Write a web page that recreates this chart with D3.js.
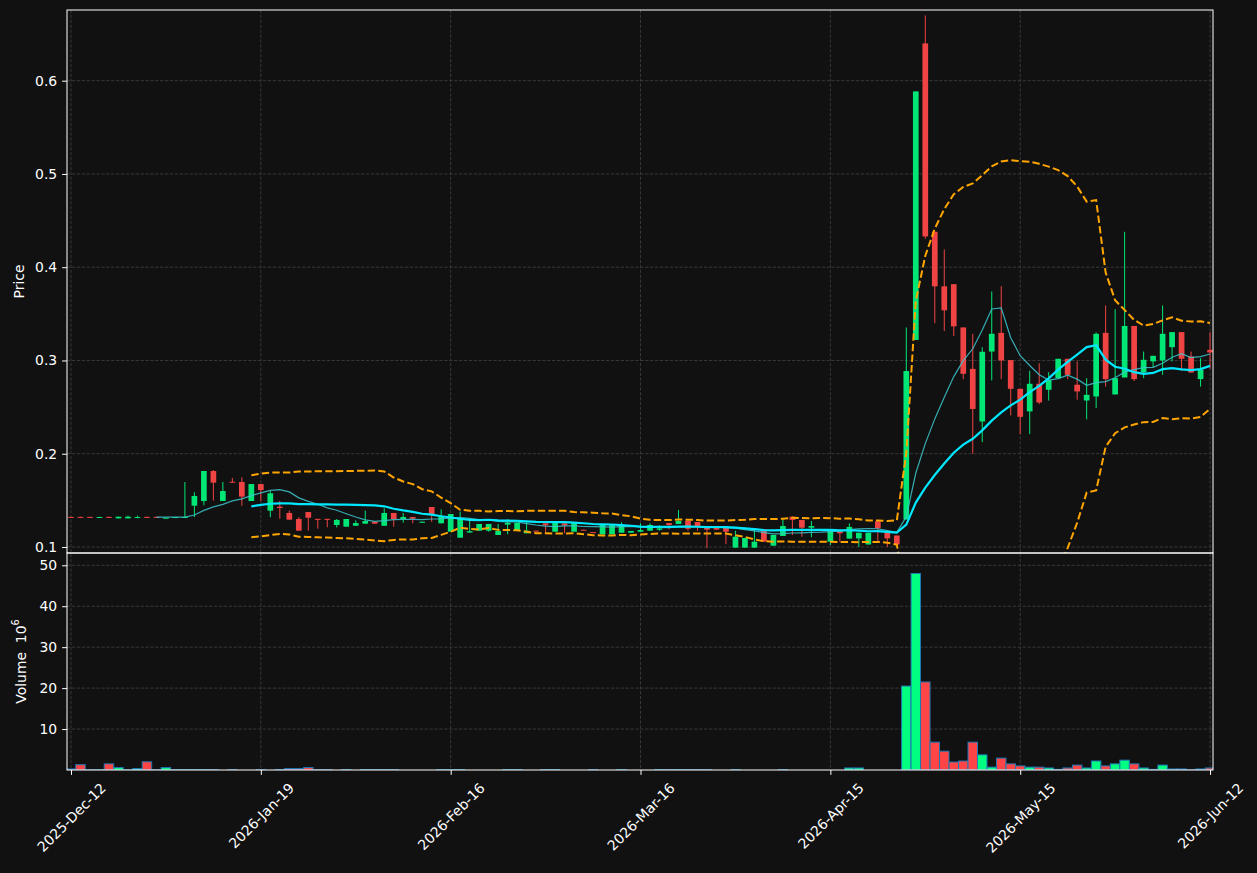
<!DOCTYPE html>
<html><head><meta charset="utf-8">
<script src="https://cdn.jsdelivr.net/npm/d3@7"></script>
<style>body{margin:0;background:#111111;} svg{display:block;font-family:"DejaVu Sans",sans-serif;}</style>
</head><body>
<svg id="c" width="1257" height="873"></svg>
<script>
// ---- data ----
const tickIndex  = [0, 20, 40, 60, 80, 100, 120];
const tickLabels = ["2025-Dec-12","2026-Jan-19","2026-Feb-16","2026-Mar-16","2026-Apr-15","2026-May-15","2026-Jun-12"];
const priceTicks  = [0.1, 0.2, 0.3, 0.4, 0.5, 0.6];
const volumeTicks = [10, 20, 30, 40, 50];

const opens = [
0.1323,0.1323,0.1323,0.1319,0.1323,0.1307,0.1307,0.1318,0.1323,0.1323,
0.1304,0.1320,0.1320,0.1443,0.1493,0.1815,0.1493,0.1700,0.1697,0.1493,
0.1675,0.1390,0.1432,0.1365,0.1300,0.1375,0.1302,0.1302,0.1236,0.1218,
0.1228,0.1250,0.1271,0.1228,0.1365,0.1300,0.1322,0.1260,0.1429,0.1254,
0.1164,0.1100,0.1155,0.1175,0.1175,0.1129,0.1240,0.1182,0.1147,0.1175,
0.1254,0.1164,0.1254,0.1164,0.1185,0.1160,0.1136,0.1136,0.1153,0.1153,
0.1164,0.1175,0.1185,0.1257,0.1247,0.1279,0.1268,0.1218,0.1218,0.1207,
0.0993,0.0993,0.0993,0.1190,0.1014,0.1118,0.1325,0.1290,0.1207,0.1175,
0.1057,0.1175,0.1090,0.1092,0.1027,0.1276,0.1161,0.1123,0.1295,0.3220,
0.6400,0.4380,0.3795,0.3818,0.3354,0.2910,0.2346,0.3096,0.3296,0.3004,
0.2696,0.2454,0.2750,0.2686,0.2810,0.3018,0.2740,0.2571,0.2614,0.3296,
0.2636,0.2818,0.3370,0.2871,0.2990,0.3000,0.3143,0.3304,0.3043,0.2800,
0.3114];
const highs = [
0.1325,0.1325,0.1324,0.1324,0.1325,0.1325,0.1336,0.1336,0.1326,0.1324,
0.1314,0.1321,0.1697,0.1587,0.1815,0.1826,0.1697,0.1740,0.1747,0.1675,
0.1675,0.1600,0.1493,0.1390,0.1320,0.1375,0.1302,0.1302,0.1300,0.1300,
0.1286,0.1390,0.1271,0.1415,0.1365,0.1365,0.1322,0.1271,0.1429,0.1404,
0.1354,0.1380,0.1290,0.1247,0.1247,0.1247,0.1297,0.1260,0.1270,0.1175,
0.1254,0.1260,0.1254,0.1260,0.1185,0.1160,0.1236,0.1236,0.1265,0.1172,
0.1254,0.1254,0.1233,0.1257,0.1397,0.1279,0.1268,0.1218,0.1218,0.1207,
0.1175,0.1097,0.1190,0.1190,0.1129,0.1297,0.1325,0.1290,0.1279,0.1190,
0.1175,0.1175,0.1253,0.1153,0.1153,0.1276,0.1161,0.1123,0.3354,0.5885,
0.6700,0.4380,0.4190,0.3818,0.3354,0.3286,0.3143,0.3740,0.3796,0.3004,
0.2696,0.2890,0.2970,0.2875,0.3018,0.3018,0.2990,0.2810,0.3300,0.3590,
0.3550,0.4380,0.3370,0.3096,0.3050,0.3590,0.3304,0.3304,0.3096,0.3025,
0.3304];
const lows = [
0.1318,0.1318,0.1319,0.1318,0.1318,0.1307,0.1307,0.1307,0.1316,0.1318,
0.1304,0.1319,0.1320,0.1320,0.1447,0.1497,0.1493,0.1690,0.1443,0.1493,
0.1493,0.1320,0.1303,0.1293,0.1175,0.1175,0.1196,0.1211,0.1210,0.1218,
0.1228,0.1250,0.1250,0.1228,0.1218,0.1261,0.1254,0.1260,0.1270,0.1254,
0.1164,0.1100,0.1155,0.1175,0.1164,0.1129,0.1136,0.1182,0.1147,0.1168,
0.1147,0.1164,0.1147,0.1164,0.1180,0.1152,0.1136,0.1136,0.1153,0.1153,
0.1164,0.1175,0.1175,0.1190,0.1247,0.1175,0.1175,0.0986,0.1186,0.1030,
0.0993,0.0993,0.0993,0.1057,0.1014,0.1118,0.1129,0.1110,0.1104,0.1175,
0.1021,0.1057,0.1090,0.1000,0.1027,0.1046,0.1000,0.1027,0.1295,0.3220,
0.4305,0.3400,0.3316,0.3262,0.2800,0.2000,0.2125,0.2786,0.2800,0.2410,
0.2210,0.2210,0.2532,0.2570,0.2810,0.2800,0.2579,0.2370,0.2490,0.2720,
0.2636,0.2818,0.2780,0.2810,0.2930,0.2846,0.2990,0.2890,0.2871,0.2720,
0.2910];
const closes = [
0.1320,0.1320,0.1320,0.1322,0.1320,0.1325,0.1325,0.1322,0.1319,0.1320,
0.1314,0.1321,0.1322,0.1547,0.1815,0.1690,0.1600,0.1690,0.1540,0.1675,
0.1610,0.1576,0.1418,0.1293,0.1175,0.1314,0.1295,0.1295,0.1290,0.1300,
0.1257,0.1279,0.1250,0.1365,0.1300,0.1322,0.1303,0.1271,0.1354,0.1322,
0.1354,0.1308,0.1170,0.1247,0.1247,0.1172,0.1260,0.1260,0.1175,0.1168,
0.1233,0.1260,0.1233,0.1260,0.1180,0.1152,0.1236,0.1236,0.1236,0.1172,
0.1182,0.1236,0.1200,0.1236,0.1279,0.1196,0.1218,0.1186,0.1186,0.1164,
0.1110,0.1097,0.1057,0.1057,0.1129,0.1225,0.1290,0.1207,0.1225,0.1190,
0.1175,0.1147,0.1215,0.1153,0.1153,0.1200,0.1092,0.1027,0.2887,0.5885,
0.4330,0.3795,0.3538,0.3366,0.2857,0.2480,0.3093,0.3286,0.3000,0.2696,
0.2396,0.2750,0.2550,0.2790,0.3018,0.2846,0.2668,0.2632,0.3286,0.2800,
0.2810,0.3370,0.2800,0.3007,0.3050,0.3286,0.3304,0.3018,0.2871,0.2900,
0.3086];
// volume in millions
const volumes = [
0.25,1.3,0.05,0.05,1.5,0.6,0.05,0.35,2.0,0.05,
0.6,0.08,0.08,0.08,0.08,0.08,0,0.08,0,0,
0.08,0,0.1,0.35,0.35,0.6,0.08,0.08,0,0.08,
0,0.08,0.08,0.08,0.08,0,0,0,0,0.08,
0.08,0.08,0,0,0,0,0.08,0.08,0,0,
0.08,0.08,0,0,0,0.08,0,0,0.08,0,
0,0,0.08,0.08,0.08,0.08,0.08,0.08,0,0,
0.08,0,0,0,0,0.08,0,0,0,0,
0,0,0.5,0.5,0,0,0,0,20.5,48.0,
21.5,6.8,4.6,1.95,2.2,6.8,3.7,0.7,2.9,1.5,
1.0,0.7,0.7,0.5,0.15,0.5,1.2,0.5,2.2,1.0,
1.5,2.4,1.5,0.5,0.15,1.2,0.25,0.25,0.05,0.25,
0.5];

// ---- indicators derived from the closes (10/20 rolling mean, 20-period 2-sigma bands) ----
function rollMean(arr, n){ return arr.map((v,i)=> i<n-1 ? null : d3.mean(arr.slice(i-n+1,i+1))); }
function rollStd(arr, n){ return arr.map((v,i)=>{ if(i<n-1) return null; const s=arr.slice(i-n+1,i+1); const m=d3.mean(s); return Math.sqrt(d3.mean(s.map(x=>(x-m)*(x-m)))); }); }
const ma10 = rollMean(closes, 10);
const ma20 = rollMean(closes, 20);
const sd20 = rollStd(closes, 20);
const bbUp = ma20.map((m,i)=> m==null?null:m+2*sd20[i]);
const bbLo = ma20.map((m,i)=> m==null?null:m-2*sd20[i]);

// ---- layout ----
const L=67, R=1213, PT=10, PB=553, VT=553, VB=770;
const svg = d3.select("#c");
svg.append("rect").attr("width",1257).attr("height",873).attr("fill","#111111");

const idx = d3.range(closes.length);
const x  = d3.scaleLinear().domain([-0.42, 120.31]).range([L, R]);
const yP = d3.scaleLinear().domain([0.09357, 0.6758]).range([PB, PT]);
const yV = d3.scaleLinear().domain([0, 53]).range([VB, VT]);
const step = x(1)-x(0);

const UP="#00e676", DN="#f04343", VUP="#00ff80", VDN="#ff4545";
const gridC="#3c3c3c";
const defs = svg.append("defs");
defs.append("clipPath").attr("id","cp").append("rect").attr("x",L).attr("y",PT).attr("width",R-L).attr("height",PB-PT);
defs.append("clipPath").attr("id","cv").append("rect").attr("x",L).attr("y",VT).attr("width",R-L).attr("height",VB-VT);

// grid
const gP = svg.append("g");
gP.selectAll("line.h").data(priceTicks).join("line")
  .attr("x1",L).attr("x2",R).attr("y1",d=>yP(d)).attr("y2",d=>yP(d))
  .attr("stroke",gridC).attr("stroke-width",0.9).attr("stroke-dasharray","3.3,1.6");
gP.selectAll("line.hv").data(volumeTicks).join("line")
  .attr("x1",L).attr("x2",R).attr("y1",d=>yV(d)).attr("y2",d=>yV(d))
  .attr("stroke",gridC).attr("stroke-width",0.9).attr("stroke-dasharray","3.3,1.6");
gP.selectAll("line.v").data(tickIndex).join("line")
  .attr("x1",d=>x(d)).attr("x2",d=>x(d)).attr("y1",PT).attr("y2",VB)
  .attr("stroke",gridC).attr("stroke-width",0.9).attr("stroke-dasharray","3.3,1.6");

// candles
const gC = svg.append("g").attr("clip-path","url(#cp)");
const bw = step*0.6;
gC.selectAll("line.w").data(idx).join("line")
  .attr("x1",i=>x(i)).attr("x2",i=>x(i)).attr("y1",i=>yP(highs[i])).attr("y2",i=>yP(lows[i]))
  .attr("stroke",i=>closes[i]>=opens[i]?UP:DN).attr("stroke-width",1);
gC.selectAll("rect.b").data(idx).join("rect")
  .attr("x",i=>x(i)-bw/2).attr("width",bw)
  .attr("y",i=>yP(Math.max(opens[i],closes[i])))
  .attr("height",i=>Math.max(1, yP(Math.min(opens[i],closes[i]))-yP(Math.max(opens[i],closes[i]))))
  .attr("fill",i=>closes[i]>=opens[i]?UP:DN);

// indicator lines
const line = arr => d3.line().defined(i=>arr[i]!=null).x(i=>x(i)).y(i=>yP(arr[i]))(idx);
const gL = svg.append("g").attr("clip-path","url(#cp)").attr("fill","none");
gL.append("path").attr("d",line(bbUp)).attr("stroke","#ffa500").attr("stroke-width",2).attr("stroke-dasharray","7.4,3.2");
gL.append("path").attr("d",line(bbLo)).attr("stroke","#ffa500").attr("stroke-width",2).attr("stroke-dasharray","7.4,3.2");
gL.append("path").attr("d",line(ma10)).attr("stroke","#3cc8d0").attr("stroke-opacity",0.85).attr("stroke-width",1.2);
gL.append("path").attr("d",line(ma20)).attr("stroke","#00e8ff").attr("stroke-width",2.2);

// volume bars
const gV = svg.append("g").attr("clip-path","url(#cv)");
gV.selectAll("rect").data(idx.filter(i=>volumes[i]>0)).join("rect")
  .attr("x",i=>x(i)-step/2).attr("width",step)
  .attr("y",i=>yV(volumes[i])).attr("height",i=>yV(0)-yV(volumes[i]))
  .attr("fill",i=>closes[i]>=opens[i]?VUP:VDN)
  .attr("stroke","#1f77b4").attr("stroke-width",1);

// spines
const sp = svg.append("g").attr("fill","none").attr("stroke","#ffffff").attr("stroke-width",1);
sp.append("rect").attr("x",L).attr("y",PT).attr("width",R-L).attr("height",PB-PT);
sp.append("rect").attr("x",L).attr("y",VT).attr("width",R-L).attr("height",VB-VT);

// axes
const fs = 13.9;
const axP = svg.append("g").attr("transform",`translate(${L},0)`)
  .call(d3.axisLeft(yP).tickValues(priceTicks).tickFormat(d3.format(".1f")).tickSize(4.9).tickPadding(4.9));
const axV = svg.append("g").attr("transform",`translate(${L},0)`)
  .call(d3.axisLeft(yV).tickValues(volumeTicks).tickFormat(d3.format("d")).tickSize(4.9).tickPadding(4.9));
const axX = svg.append("g").attr("transform",`translate(0,${VB})`)
  .call(d3.axisBottom(x).tickValues(tickIndex).tickFormat((d,k)=>tickLabels[k]).tickSize(4.9).tickPadding(4.9));
[axP,axV,axX].forEach(a=>{
  a.select(".domain").remove();
  a.selectAll(".tick line").attr("stroke","#ffffff");
  a.selectAll(".tick text").attr("fill","#ffffff").style("font-size",fs+"px").style("font-family","DejaVu Sans");
});
// rotated x labels: rotated bbox centred on tick
axX.selectAll(".tick text").each(function(){
  const t = d3.select(this);
  const w = this.getComputedTextLength();
  const h = fs*1.17;
  const bb = (w+h)*Math.SQRT1_2;
  const cy = 4.9+4.9+bb/2;
  t.attr("y",null).attr("dy",null).attr("x",0)
   .attr("text-anchor","middle").attr("dominant-baseline","central")
   .attr("transform",`translate(0,${cy}) rotate(-45)`);
});

// axis titles
svg.append("text").attr("transform",`translate(18.5,${(PT+PB)/2}) rotate(-90)`)
  .attr("text-anchor","middle").attr("dominant-baseline","central")
  .attr("fill","#ffffff").style("font-size",fs+"px").text("Price");
const vt = svg.append("text").attr("transform",`translate(20.5,${(VT+VB)/2}) rotate(-90)`)
  .attr("text-anchor","middle").attr("dominant-baseline","central")
  .attr("fill","#ffffff").style("font-size",fs+"px");
vt.append("tspan").text("Volume\u00a0\u00a010");
vt.append("tspan").attr("baseline-shift","super").style("font-size","9.7px").text("6");
</script>
</body></html>
